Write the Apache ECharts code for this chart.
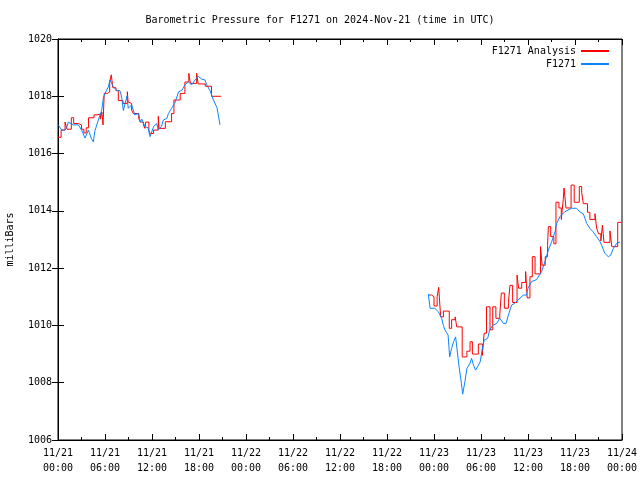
<!DOCTYPE html>
<html>
<head>
<meta charset="utf-8">
<script src="https://cdn.jsdelivr.net/npm/echarts@6/dist/echarts.min.js"></script>
<style>html,body{margin:0;padding:0;background:#fff}#c{width:640px;height:480px}</style>
</head>
<body>
<div id="c"></div>
<script>
// Hours since 2024-11-21 00:00 UTC; '-' marks the data gap
var analysisHours = [0,0.4,0.9,1.15,1.7,2.0,2.6,3.0,3.3,3.6,3.9,4.6,5.0,5.4,5.6,5.75,5.9,6.3,6.6,6.8,7.0,7.4,7.7,8.3,8.85,8.95,9.2,9.4,9.6,10.3,10.5,10.9,11.1,11.2,11.6,11.75,12.2,12.8,12.9,13.7,14.5,14.8,15.6,16.2,16.7,16.9,17.7,17.9,18.8,19.6,20.8,
  34,
  47.27,47.7,48.0,48.4,48.6,48.85,49.2,49.95,50.25,50.7,50.9,51.6,52.2,52.6,52.9,53.66,54.17,54.4,54.7,55.15,55.5,55.9,56.4,56.6,56.98,57.5,57.7,58.04,58.6,58.8,59.2,59.7,59.9,60.25,60.55,60.9,61.6,61.8,62.2,62.5,62.6,62.9,63.3,63.57,63.95,64.25,64.5,64.6,64.85,65.5,65.9,66.55,66.85,67.06,67.6,67.9,68.55,68.76,69.0,69.3,69.5,69.7,70.46,70.7,71.45,71.9];
var analysisValues = [1016.57,1016.82,1017.1,1016.85,1017.25,1017.05,1017.0,1016.85,1016.72,1016.9,1017.25,1017.35,1017.38,1017.2,1017.45,1017.0,1018.1,1018.15,1018.5,1018.75,1018.3,1018.2,1017.85,1017.75,1018.16,1017.8,1017.75,1017.52,1017.4,1017.23,1017.1,1017.0,1016.88,1017.1,1016.82,1016.7,1016.82,1017.3,1016.88,1017.11,1017.4,1017.87,1018.1,1018.5,1018.8,1018.45,1018.8,1018.43,1018.35,1018.0,1018.0,
  '-',
  1011.06,1011.0,1010.68,1011.0,1011.33,1010.3,1010.5,1009.9,1010.2,1010.3,1009.95,1008.9,1009.1,1009.43,1009.0,1009.35,1008.95,1009.73,1010.65,1009.85,1010.65,1010.25,1010.4,1011.13,1010.6,1010.8,1011.4,1010.8,1011.76,1011.3,1011.5,1011.88,1010.96,1011.7,1012.4,1011.8,1012.75,1012.1,1012.4,1012.8,1013.45,1013.1,1012.85,1014.3,1014.1,1013.7,1014.4,1014.8,1014.1,1014.9,1014.3,1014.85,1014.65,1014.25,1013.95,1013.7,1013.9,1013.4,1013.2,1012.95,1013.5,1012.9,1013.3,1012.75,1013.6,1013.6];

var obsHours = [0.04,0.47,0.89,1.1,1.32,1.96,2.6,3.02,3.45,3.87,4.3,4.51,4.72,5.15,5.57,5.79,6.0,6.43,6.64,7.06,7.49,7.9,8.13,8.34,8.55,8.8,8.97,9.4,9.8,10.3,10.5,10.7,10.9,11.1,11.5,11.75,11.95,12.2,12.6,12.8,13.2,13.45,13.9,14.1,14.5,14.9,15.4,15.8,16.2,16.64,17.06,17.5,17.9,18.34,18.77,18.98,19.4,19.8,20.3,20.68,
  34,
  47.27,47.5,48.1,48.55,48.98,49.2,49.4,49.6,49.8,50.0,50.25,50.5,50.76,51.0,51.2,51.5,51.66,51.95,52.2,52.6,52.8,53.0,53.3,53.66,53.9,54.1,54.4,54.85,55.1,55.5,56.0,56.4,56.85,57.2,57.5,57.9,58.3,58.97,59.4,59.8,60.0,60.46,61.1,61.74,62.17,62.6,63.02,63.45,63.66,64.08,64.7,65.57,66.2,66.6,67.06,67.5,67.9,68.3,68.76,69.2,69.4,69.8,70.25,70.55,70.9,71.3,71.75];
var obsValues = [1017.0,1016.82,1016.82,1016.9,1017.1,1017.0,1017.0,1016.82,1016.54,1016.82,1016.5,1016.41,1016.8,1017.17,1017.5,1017.94,1018.1,1018.33,1018.57,1018.33,1018.2,1018.2,1017.98,1017.5,1017.52,1018.0,1017.58,1017.7,1017.35,1017.4,1017.1,1017.2,1017.15,1016.94,1016.9,1016.59,1016.53,1016.94,1017.05,1016.82,1016.94,1017.17,1017.23,1017.4,1017.58,1017.75,1018.16,1018.2,1018.4,1018.5,1018.4,1018.57,1018.7,1018.6,1018.57,1018.4,1018.2,1017.9,1017.6,1017.0,
  '-',
  1011.1,1010.6,1010.6,1010.48,1010.25,1010.0,1009.84,1009.75,1009.66,1008.9,1009.2,1009.43,1009.6,1009.55,1008.56,1007.98,1007.6,1008.04,1008.5,1008.68,1008.85,1008.65,1008.44,1008.6,1008.73,1009.08,1009.49,1009.55,1009.84,1010.0,1010.07,1010.25,1010.07,1010.07,1010.36,1010.71,1010.77,1010.95,1011.06,1011.06,1011.3,1011.53,1011.6,1011.88,1012.23,1012.63,1012.92,1013.27,1013.56,1013.8,1013.97,1014.09,1014.09,1013.97,1013.9,1013.56,1013.39,1013.27,1013.1,1012.92,1012.8,1012.52,1012.4,1012.45,1012.69,1012.86,1012.92];

var titleText = 'Barometric Pressure for F1271 on 2024-Nov-21 (time in UTC)';
var seriesNames = ['F1271 Analysis', 'F1271'];
var yTicks = {min: 1006, max: 1020, step: 2};
var xTicks = {min: 0, max: 72, step: 6};

// split the hour/value lists into continuous segments at the '-' gap markers
function segments(h, v) {
  var out = [], cur = [];
  for (var i = 0; i < h.length; i++) {
    if (v[i] === '-') { if (cur.length) out.push(cur); cur = []; }
    else cur.push([h[i], v[i]]);
  }
  if (cur.length) out.push(cur);
  return out;
}
function xLabel(h) {
  var day = 21 + Math.floor(h / 24);
  var hh = h % 24;
  return '11/' + day + '\n' + (hh < 10 ? '0' : '') + hh + ':00';
}

var FONT = 'DejaVu Sans Mono';
var COLORS = ['#ff0000', '#0a84ff'];
var chart = echarts.init(document.getElementById('c'), null, {renderer: 'canvas'});
var axisCommon = {
  axisLine: {show: true, lineStyle: {color: '#000', width: 1}},
  splitLine: {show: false}
};
var series = [];
[[analysisHours, analysisValues, true], [obsHours, obsValues, false]].forEach(function (s, k) {
  segments(s[0], s[1]).forEach(function (seg) {
    series.push({
      name: seriesNames[k], type: 'line', step: s[2] ? 'end' : false, showSymbol: false,
      data: seg, z: 2 + k,
      itemStyle: {color: COLORS[k]}, lineStyle: {color: COLORS[k], width: 1}
    });
  });
});
chart.setOption({
  animation: false,
  backgroundColor: '#fff',
  title: {
    text: titleText, left: 'center', top: 10,
    textStyle: {fontFamily: FONT, fontSize: 10, fontWeight: 'normal', color: '#000'}
  },
  legend: {
    orient: 'vertical', right: 26, top: 40, align: 'right',
    itemWidth: 28, itemHeight: 2, itemGap: 1, icon: 'rect',
    data: seriesNames,
    textStyle: {fontFamily: FONT, fontSize: 10, color: '#000', lineHeight: 12}
  },
  grid: {left: 58, right: 18, top: 39, bottom: 40, show: true, borderColor: '#000', borderWidth: 1,
         containLabel: false, outerBoundsMode: 'none'},
  xAxis: [
    Object.assign({}, axisCommon, {
      type: 'value', min: xTicks.min, max: xTicks.max, interval: xTicks.step, position: 'bottom',
      axisTick: {inside: true, length: 6, lineStyle: {color: '#000'}},
      minorTick: {show: true, splitNumber: 2, length: 3, lineStyle: {color: '#000'}},
      axisLabel: {formatter: xLabel, fontFamily: FONT, fontSize: 10, color: '#000', lineHeight: 15, margin: 6}
    }),
    Object.assign({}, axisCommon, {
      type: 'value', min: xTicks.min, max: xTicks.max, interval: xTicks.step, position: 'top',
      axisTick: {inside: true, length: 6, lineStyle: {color: '#000'}},
      minorTick: {show: true, splitNumber: 2, length: 3, lineStyle: {color: '#000'}},
      axisLabel: {show: false}
    })
  ],
  yAxis: [
    Object.assign({}, axisCommon, {
      type: 'value', min: yTicks.min, max: yTicks.max, interval: yTicks.step, position: 'left',
      name: 'milliBars', nameLocation: 'middle', nameRotate: 90, nameGap: 43,
      nameTextStyle: {fontFamily: FONT, fontSize: 10, color: '#000'},
      axisTick: {inside: true, length: 6, lineStyle: {color: '#000'}},
      axisLabel: {fontFamily: FONT, fontSize: 10, color: '#000', margin: 6,
                  formatter: function (v) { return String(v); }}
    }),
    Object.assign({}, axisCommon, {
      type: 'value', min: yTicks.min, max: yTicks.max, interval: yTicks.step, position: 'right',
      axisTick: {inside: true, length: 6, lineStyle: {color: '#000'}},
      axisLabel: {show: false}
    })
  ],
  series: series
});
</script>
</body>
</html>
